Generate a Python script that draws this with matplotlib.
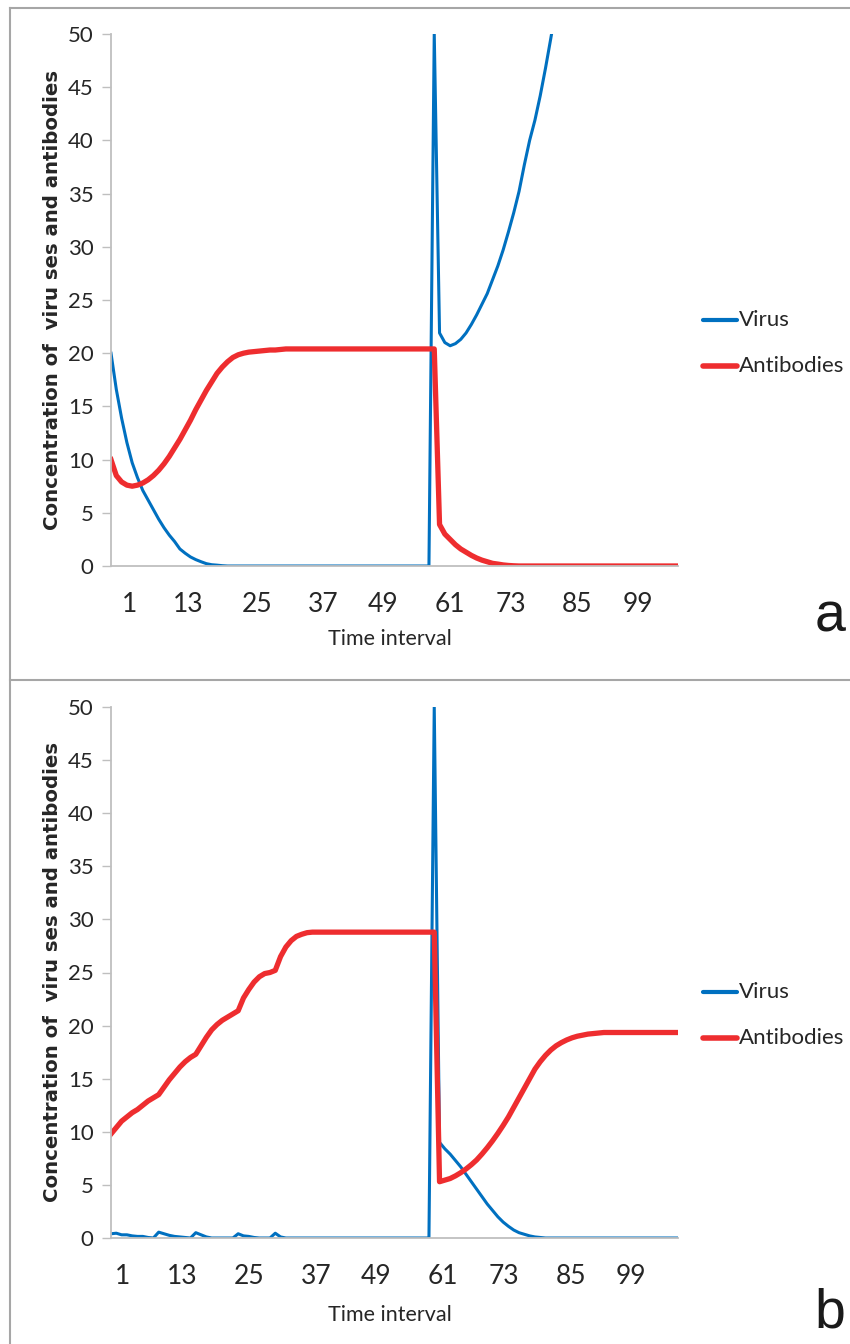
import numpy as np
import matplotlib.pyplot as plt
from matplotlib.lines import Line2D

W, H = 850, 1344
BLUE = '#0070C0'
RED = '#EE2D2F'
AXIS_GREY = '#BFBFBF'
BOX_GREY = '#A6A6A6'
TEXT = '#262626'
SANS = ['Lato', 'DejaVu Sans']

# --- panel a: virus leaves, antibodies drop after time ~61 ---
virus_a = [20.0, 16.6, 13.9, 11.6, 9.7, 8.3, 7.1, 6.2, 5.3, 4.4,
           3.6, 2.9, 2.3, 1.6, 1.2, 0.85, 0.6, 0.4, 0.22, 0.12,
           0.08, 0.03, 0, 0, 0, 0, 0, 0, 0, 0,
           0, 0, 0, 0, 0, 0, 0, 0, 0, 0,
           0, 0, 0, 0, 0, 0, 0, 0, 0, 0,
           0, 0, 0, 0, 0, 0, 0, 0, 0, 0,
           0, 50.0, 21.9, 21.0, 20.7, 20.9, 21.3, 21.9, 22.7, 23.6,
           24.6, 25.6, 26.9, 28.2, 29.7, 31.4, 33.2, 35.2, 37.7, 40.0,
           41.9, 44.2, 46.8, 49.6, 52.5]
antibodies_a = [10.0, 8.5, 7.9, 7.6, 7.5, 7.6, 7.8, 8.1, 8.5, 9.0,
                9.6, 10.3, 11.1, 11.9, 12.8, 13.7, 14.7, 15.6, 16.5, 17.3,
                18.1, 18.7, 19.2, 19.6, 19.85, 20.0, 20.1, 20.15, 20.2, 20.25,
                20.3, 20.3, 20.35, 20.4, 20.4, 20.4, 20.4, 20.4, 20.4, 20.4,
                20.4, 20.4, 20.4, 20.4, 20.4, 20.4, 20.4, 20.4, 20.4, 20.4,
                20.4, 20.4, 20.4, 20.4, 20.4, 20.4, 20.4, 20.4, 20.4, 20.4,
                20.4, 20.4, 3.9, 3.0, 2.5, 2.0, 1.6, 1.3, 1.0, 0.75,
                0.55, 0.4, 0.25, 0.18, 0.1, 0.05, 0.02, 0, 0, 0,
                0, 0, 0, 0, 0, 0, 0, 0, 0, 0,
                0, 0, 0, 0, 0, 0, 0, 0, 0, 0,
                0, 0, 0, 0, 0, 0, 0, 0]

# --- panel b: second exposure, antibodies recover ---
virus_b = [0.4, 0.45, 0.3, 0.3, 0.2, 0.15, 0.15, 0.05, 0.0, 0.55,
           0.4, 0.25, 0.15, 0.1, 0.05, 0.0, 0.5, 0.3, 0.1, 0.0,
           0, 0, 0, 0, 0.4, 0.2, 0.15, 0.05, 0, 0,
           0, 0.45, 0.1, 0, 0, 0, 0, 0, 0, 0,
           0, 0, 0, 0, 0, 0, 0, 0, 0, 0,
           0, 0, 0, 0, 0, 0, 0, 0, 0, 0,
           0, 50.0, 9.0, 8.4, 7.9, 7.3, 6.7, 6.0, 5.3, 4.6,
           3.9, 3.2, 2.6, 2.0, 1.5, 1.1, 0.75, 0.5, 0.35, 0.2,
           0.1, 0.05, 0, 0, 0, 0, 0, 0, 0, 0,
           0, 0, 0, 0, 0, 0, 0, 0, 0, 0,
           0, 0, 0, 0, 0, 0, 0, 0]
antibodies_b = [9.8, 10.4, 11.0, 11.4, 11.8, 12.1, 12.5, 12.9, 13.2, 13.5,
                14.2, 14.9, 15.5, 16.1, 16.6, 17.0, 17.3, 18.1, 18.9, 19.6,
                20.1, 20.5, 20.8, 21.1, 21.4, 22.6, 23.4, 24.1, 24.6, 24.9,
                25.0, 25.2, 26.5, 27.4, 28.0, 28.4, 28.6, 28.75, 28.8, 28.8,
                28.8, 28.8, 28.8, 28.8, 28.8, 28.8, 28.8, 28.8, 28.8, 28.8,
                28.8, 28.8, 28.8, 28.8, 28.8, 28.8, 28.8, 28.8, 28.8, 28.8,
                28.8, 28.8, 5.3, 5.45, 5.6, 5.85, 6.15, 6.5, 6.9, 7.35,
                7.9, 8.5, 9.15, 9.85, 10.6, 11.4, 12.3, 13.2, 14.1, 15.0,
                15.9, 16.6, 17.2, 17.7, 18.1, 18.4, 18.65, 18.85, 19.0, 19.1,
                19.2, 19.25, 19.3, 19.35, 19.35, 19.35, 19.35, 19.35, 19.35, 19.35,
                19.35, 19.35, 19.35, 19.35, 19.35, 19.35, 19.35, 19.35]

tick_labels = ['1', '13', '25', '37', '49', '61', '73', '85', '99']
tick_pos_a = [3.4, 14.6, 27.5, 40.1, 51.3, 63.9, 75.5, 87.9, 99.5]
tick_pos_b = [2.1, 13.5, 26.0, 38.7, 50.1, 62.6, 74.1, 86.9, 98.2]
y_ticks = [0, 5, 10, 15, 20, 25, 30, 35, 40, 45, 50]


def fx(px):
    return px / W


def fy(py):
    return 1 - py / H


fig = plt.figure(figsize=(W / 100, H / 100), dpi=100)
fig.patch.set_facecolor('white')


def draw_panel(top_px, zero_px, virus, antibodies, tick_pos, letter, leg_y, letter_y, xlabel_y):
    ax = fig.add_axes([fx(111), fy(zero_px), fx(678) - fx(111), (zero_px - top_px) / H])
    ax.plot(np.arange(len(virus)), virus, color=BLUE, lw=2.2, solid_joinstyle='round')
    ax.plot(np.arange(len(antibodies)), antibodies, color=RED, lw=3.8, solid_joinstyle='round')
    ax.set_xlim(0, 107)
    ax.set_ylim(0, 50)
    for s in ['top', 'right']:
        ax.spines[s].set_visible(False)
    for s in ['left', 'bottom']:
        ax.spines[s].set_color(AXIS_GREY)
        ax.spines[s].set_linewidth(1.3)
    ax.set_yticks(y_ticks)
    ax.set_yticklabels([str(v) for v in y_ticks], family=SANS, fontsize=16, color=TEXT)
    ax.tick_params(axis='y', length=6.5, width=1, color=AXIS_GREY, pad=6)
    ax.set_xticks(tick_pos)
    ax.set_xticklabels(tick_labels, family=SANS, fontsize=19, color=TEXT)
    ax.tick_params(axis='x', length=0, pad=19)
    ax.patch.set_alpha(0)

    # y label
    fig.text(fx(53), fy((top_px + zero_px) / 2), 'Concentration of  viru ses and antibodies',
             rotation=90, ha='center', va='center', fontsize=14.2, fontweight='bold',
             family=['DejaVu Sans'], color=TEXT)
    fig.text(fx(390), fy(xlabel_y), 'Time interval', ha='center', va='center',
             family=SANS, fontsize=15.5, color=TEXT)

    # legend
    for lab, col, lw, dy in [('Virus', BLUE, 3.0, 0), ('Antibodies', RED, 4.0, 46)]:
        y = fy(leg_y + dy)
        fig.add_artist(Line2D([fx(703), fx(737)], [y, y], color=col, lw=lw,
                              solid_capstyle='round', transform=fig.transFigure))
        fig.text(fx(739), y, lab, ha='left', va='center', family=SANS,
                 fontsize=16, color=TEXT)

    fig.text(fx(830), fy(letter_y), letter, ha='center', va='center',
             family=['Liberation Sans', 'DejaVu Sans'], fontsize=40, color='#1a1a1a')
    return ax


draw_panel(34, 566, virus_a, antibodies_a, tick_pos_a, 'a', 320, 618, 639)
draw_panel(707, 1238, virus_b, antibodies_b, tick_pos_b, 'b', 992, 1314, 1315)

# panel borders
for (x0, y0, x1, y1) in [(10, 8, 850, 8), (10, 8, 10, H), (10, 680, 850, 680)]:
    fig.add_artist(Line2D([fx(x0), fx(x1)], [fy(y0), fy(y1)], color=BOX_GREY, lw=1.5,
                          transform=fig.transFigure))

fig.savefig('out.png', dpi=100, facecolor='white')
